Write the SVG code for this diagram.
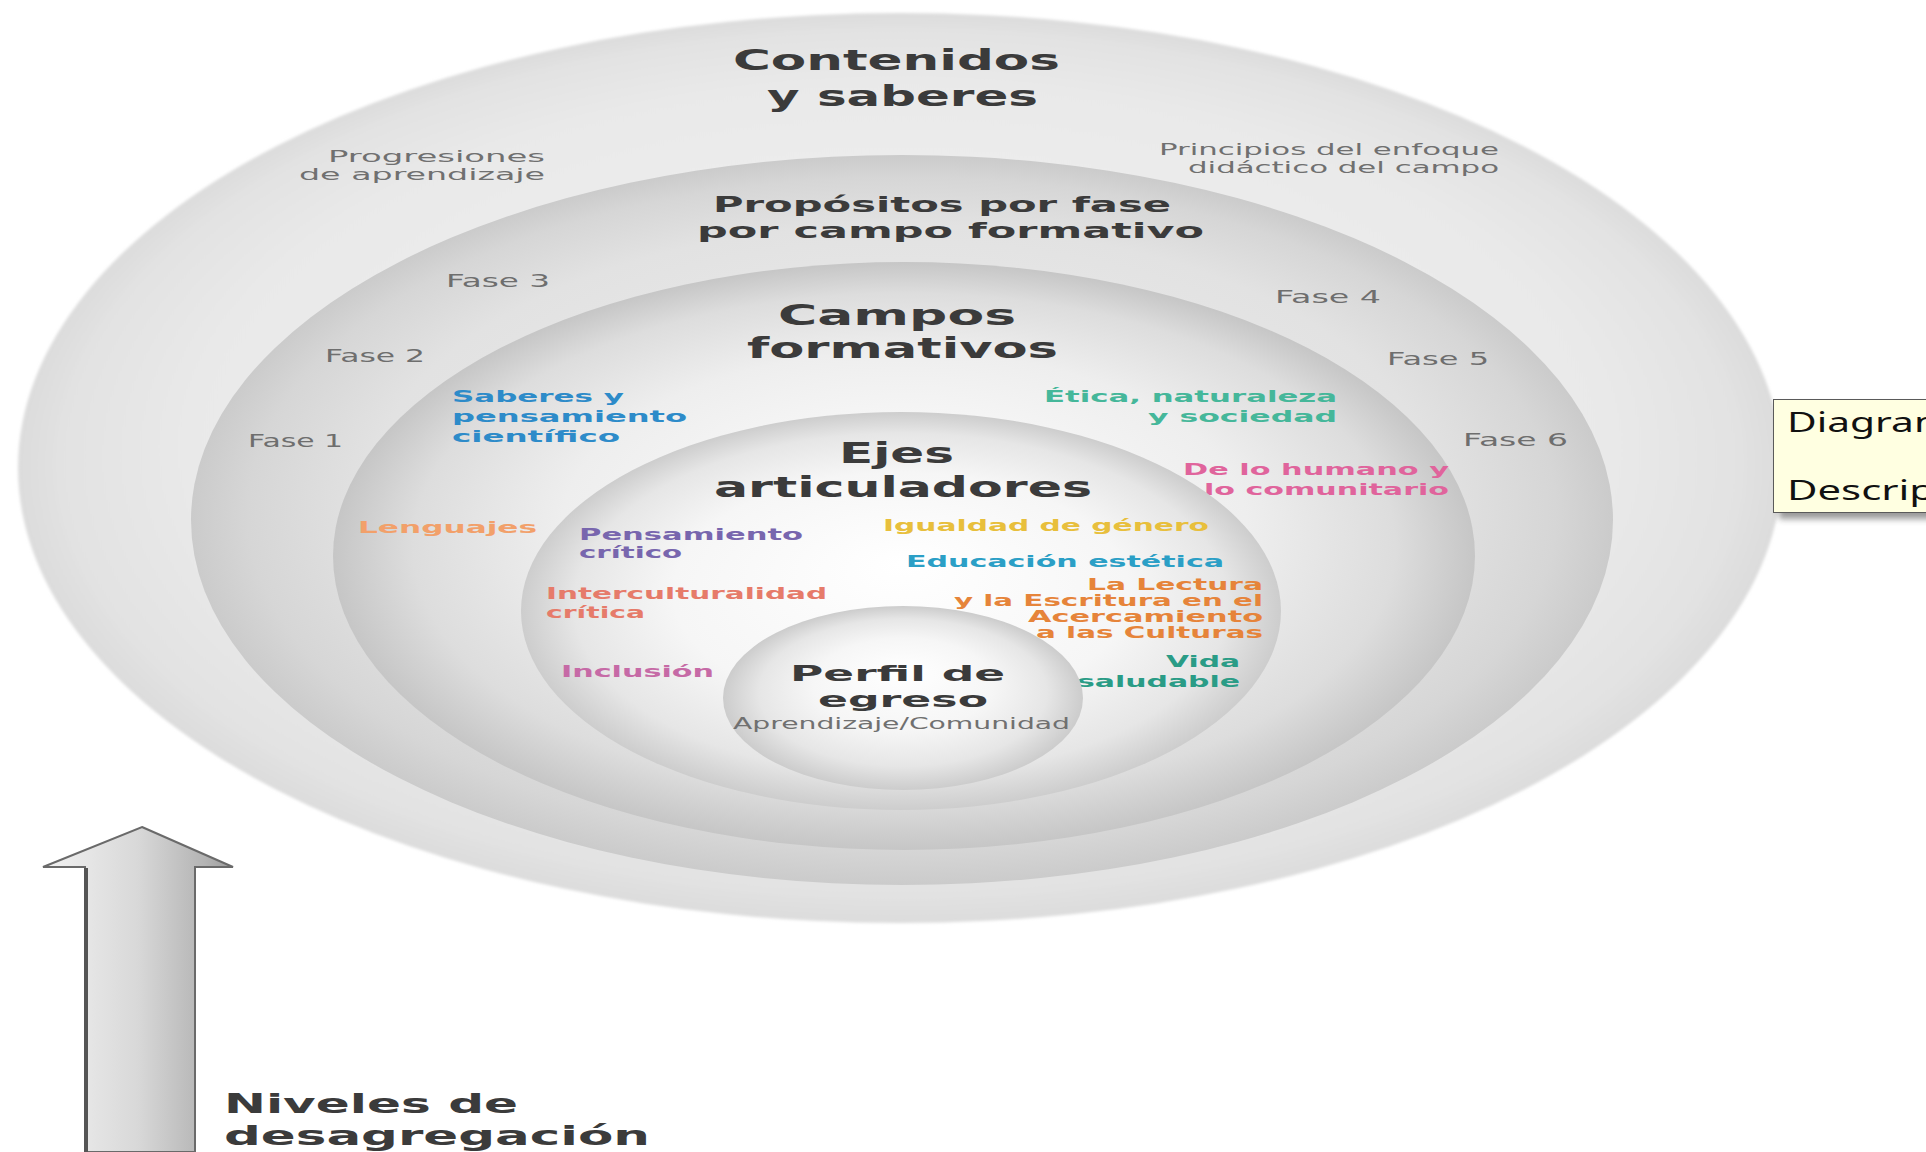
<svg xmlns="http://www.w3.org/2000/svg" width="1926" height="1152" viewBox="0 0 1926 1152">
<style>
.t{font-family:"DejaVu Sans","Liberation Sans",sans-serif;font-weight:bold;fill:#3b3b3b}
.s{font-family:"DejaVu Sans","Liberation Sans",sans-serif;fill:#707070;font-size:16px}
.f{font-family:"DejaVu Sans","Liberation Sans",sans-serif;fill:#6e6e6e;font-size:17px}
.c{font-family:"DejaVu Sans","Liberation Sans",sans-serif;font-weight:bold;font-size:16px}
.tip{font-family:"Noto Sans","DejaVu Sans",sans-serif;font-size:27px;fill:#111}
</style>
<defs>
<radialGradient id="g1" cx="0.5" cy="0.5" r="0.5" fx="0.5" fy="0.38">
<stop offset="0" stop-color="#f2f2f2"/><stop offset="0.8" stop-color="#e9e9e9"/><stop offset="0.95" stop-color="#e2e2e2"/><stop offset="1" stop-color="#dcdcdc"/>
</radialGradient>
<radialGradient id="g2" cx="0.5" cy="0.5" r="0.5" fx="0.5" fy="0.38">
<stop offset="0" stop-color="#eeeeee"/><stop offset="0.75" stop-color="#e2e2e2"/><stop offset="0.92" stop-color="#d6d6d6"/><stop offset="1" stop-color="#cbcbcb"/>
</radialGradient>
<radialGradient id="g3" cx="0.5" cy="0.5" r="0.5" fx="0.5" fy="0.38">
<stop offset="0" stop-color="#fdfdfd"/><stop offset="0.6" stop-color="#eeeeee"/><stop offset="0.86" stop-color="#dddddd"/><stop offset="1" stop-color="#c6c6c6"/>
</radialGradient>
<radialGradient id="g4" cx="0.5" cy="0.5" r="0.5" fx="0.5" fy="0.38">
<stop offset="0" stop-color="#ffffff"/><stop offset="0.6" stop-color="#f6f6f6"/><stop offset="0.86" stop-color="#e6e6e6"/><stop offset="1" stop-color="#cdcdcd"/>
</radialGradient>
<radialGradient id="g5" cx="0.5" cy="0.5" r="0.5" fx="0.5" fy="0.35">
<stop offset="0" stop-color="#ffffff"/><stop offset="0.5" stop-color="#f6f6f6"/><stop offset="0.8" stop-color="#e6e6e6"/><stop offset="1" stop-color="#cccccc"/>
</radialGradient>
<linearGradient id="shaft" x1="0" y1="0" x2="1" y2="0">
<stop offset="0" stop-color="#f2f2f2"/><stop offset="0.5" stop-color="#d8d8d8"/><stop offset="0.85" stop-color="#b4b4b4"/><stop offset="1" stop-color="#9c9c9c"/>
</linearGradient>
<filter id="soft" x="-5%" y="-5%" width="110%" height="110%"><feGaussianBlur stdDeviation="1.5"/></filter>
<filter id="shadow" x="-10%" y="-20%" width="130%" height="150%"><feGaussianBlur stdDeviation="3"/></filter>
</defs>
<rect x="0" y="0" width="1926" height="1152" fill="#ffffff"/>

<g id="contenidos-y-saberes">
<ellipse cx="900" cy="468" rx="882" ry="455" fill="url(#g1)" filter="url(#soft)"/>
<text class="t" font-size="28" x="733" y="70" textLength="327" lengthAdjust="spacingAndGlyphs">Contenidos</text>
<text class="t" font-size="28" x="767" y="106" textLength="271" lengthAdjust="spacingAndGlyphs">y saberes</text>
<text class="s" x="328" y="162" textLength="217" lengthAdjust="spacingAndGlyphs">Progresiones</text>
<text class="s" x="299" y="180" textLength="246" lengthAdjust="spacingAndGlyphs">de aprendizaje</text>
<text class="s" x="1159" y="155" textLength="340" lengthAdjust="spacingAndGlyphs">Principios del enfoque</text>
<text class="s" x="1188" y="173" textLength="311" lengthAdjust="spacingAndGlyphs">didáctico del campo</text>
</g>

<g id="propositos">
<ellipse cx="902" cy="520" rx="711" ry="365" fill="url(#g2)"/>
<text class="t" font-size="22" x="713" y="212" textLength="458" lengthAdjust="spacingAndGlyphs">Propósitos por fase</text>
<text class="t" font-size="22" x="697" y="238" textLength="507" lengthAdjust="spacingAndGlyphs">por campo formativo</text>
<text class="f" x="446" y="287" textLength="104" lengthAdjust="spacingAndGlyphs">Fase 3</text>
<text class="f" x="325" y="362" textLength="100" lengthAdjust="spacingAndGlyphs">Fase 2</text>
<text class="f" x="248" y="447" textLength="95" lengthAdjust="spacingAndGlyphs">Fase 1</text>
<text class="f" x="1275" y="303" textLength="106" lengthAdjust="spacingAndGlyphs">Fase 4</text>
<text class="f" x="1387" y="365" textLength="102" lengthAdjust="spacingAndGlyphs">Fase 5</text>
<text class="f" x="1463" y="446" textLength="105" lengthAdjust="spacingAndGlyphs">Fase 6</text>
</g>

<g id="campos-formativos">
<ellipse cx="904" cy="556" rx="571" ry="294" fill="url(#g3)"/>
<text class="t" font-size="28" x="778" y="325" textLength="238" lengthAdjust="spacingAndGlyphs">Campos</text>
<text class="t" font-size="28" x="747" y="358" textLength="311" lengthAdjust="spacingAndGlyphs">formativos</text>
<g fill="#2d8bc9">
<text class="c" x="452" y="402" textLength="172" lengthAdjust="spacingAndGlyphs">Saberes y</text>
<text class="c" x="452" y="422" textLength="235" lengthAdjust="spacingAndGlyphs">pensamiento</text>
<text class="c" x="452" y="442" textLength="168" lengthAdjust="spacingAndGlyphs">científico</text>
</g>
<g fill="#45b79a">
<text class="c" x="1044" y="402" textLength="293" lengthAdjust="spacingAndGlyphs">Ética, naturaleza</text>
<text class="c" x="1148" y="422" textLength="189" lengthAdjust="spacingAndGlyphs">y sociedad</text>
</g>
<g fill="#e0649c">
<text class="c" x="1183" y="475" textLength="266" lengthAdjust="spacingAndGlyphs">De lo humano y</text>
<text class="c" x="1204" y="495" textLength="245" lengthAdjust="spacingAndGlyphs">lo comunitario</text>
</g>
<text class="c" fill="#f2a06a" x="358" y="533" textLength="179" lengthAdjust="spacingAndGlyphs">Lenguajes</text>
</g>

<g id="ejes-articuladores">
<ellipse cx="901" cy="611" rx="380" ry="199" fill="url(#g4)"/>
<text class="t" font-size="28" x="839" y="463" textLength="115" lengthAdjust="spacingAndGlyphs">Ejes</text>
<text class="t" font-size="28" x="714" y="497" textLength="378" lengthAdjust="spacingAndGlyphs">articuladores</text>
<g fill="#7866ae">
<text class="c" font-size="15" x="579" y="540" textLength="224" lengthAdjust="spacingAndGlyphs">Pensamiento</text>
<text class="c" font-size="15" x="579" y="558" textLength="103" lengthAdjust="spacingAndGlyphs">crítico</text>
</g>
<text class="c" fill="#e8bf3c" x="883" y="531" textLength="326" lengthAdjust="spacingAndGlyphs">Igualdad de género</text>
<text class="c" fill="#2b9fc6" x="906" y="567" textLength="318" lengthAdjust="spacingAndGlyphs">Educación estética</text>
<g fill="#e67b6a">
<text class="c" font-size="15" x="546" y="599" textLength="281" lengthAdjust="spacingAndGlyphs">Interculturalidad</text>
<text class="c" font-size="15" x="546" y="618" textLength="99" lengthAdjust="spacingAndGlyphs">crítica</text>
</g>
<g fill="#e6843a">
<text class="c" font-size="13.5" x="1087" y="590" textLength="176" lengthAdjust="spacingAndGlyphs">La Lectura</text>
<text class="c" font-size="13.5" x="954" y="606" textLength="309" lengthAdjust="spacingAndGlyphs">y la Escritura en el</text>
<text class="c" font-size="13.5" x="1028" y="622" textLength="235" lengthAdjust="spacingAndGlyphs">Acercamiento</text>
<text class="c" font-size="13.5" x="1036" y="638" textLength="227" lengthAdjust="spacingAndGlyphs">a las Culturas</text>
</g>
<text class="c" fill="#c66aa6" x="561" y="677" textLength="153" lengthAdjust="spacingAndGlyphs">Inclusión</text>
<g fill="#2a9c86">
<text class="c" font-size="15" x="1166" y="667" textLength="74" lengthAdjust="spacingAndGlyphs">Vida</text>
<text class="c" font-size="15" x="1077" y="687" textLength="163" lengthAdjust="spacingAndGlyphs">saludable</text>
</g>
</g>

<g id="perfil-de-egreso">
<ellipse cx="903" cy="698" rx="180" ry="92" fill="url(#g5)"/>
<text class="t" font-size="22" x="790" y="681" textLength="215" lengthAdjust="spacingAndGlyphs">Perfil de</text>
<text class="t" font-size="22" x="818" y="707" textLength="170" lengthAdjust="spacingAndGlyphs">egreso</text>
<text class="s" font-size="12" x="733" y="729" textLength="337" lengthAdjust="spacingAndGlyphs" fill="#7a7a7a">Aprendizaje/Comunidad</text>
</g>

<g id="connectors">
<polygon points="142,827 233,867 195,867 195,1152 85,1152 85,867 43,867" fill="url(#shaft)" stroke="#6a6a6a" stroke-width="2" stroke-linejoin="miter"/>
<line x1="86" y1="868" x2="86" y2="1152" stroke="#555555" stroke-width="4"/>
</g>

<g id="niveles-de-desagregacion">
<text class="t" font-size="26" x="224" y="1113" textLength="294" lengthAdjust="spacingAndGlyphs">Niveles de</text>
<text class="t" font-size="26" x="224" y="1145" textLength="426" lengthAdjust="spacingAndGlyphs">desagregación</text>
</g>

<g id="tooltip">
<rect x="1779" y="405" width="160" height="114" fill="#555555" opacity="0.6" filter="url(#shadow)"/>
<rect x="1773.5" y="399.5" width="160" height="113" fill="#ffffe1" stroke="#5a5a5a" stroke-width="1"/>
<text class="tip" x="1787" y="432" textLength="165" lengthAdjust="spacingAndGlyphs">Diagram</text>
<text class="tip" x="1787" y="500" textLength="148" lengthAdjust="spacingAndGlyphs">Descrip</text>
</g>
</svg>
